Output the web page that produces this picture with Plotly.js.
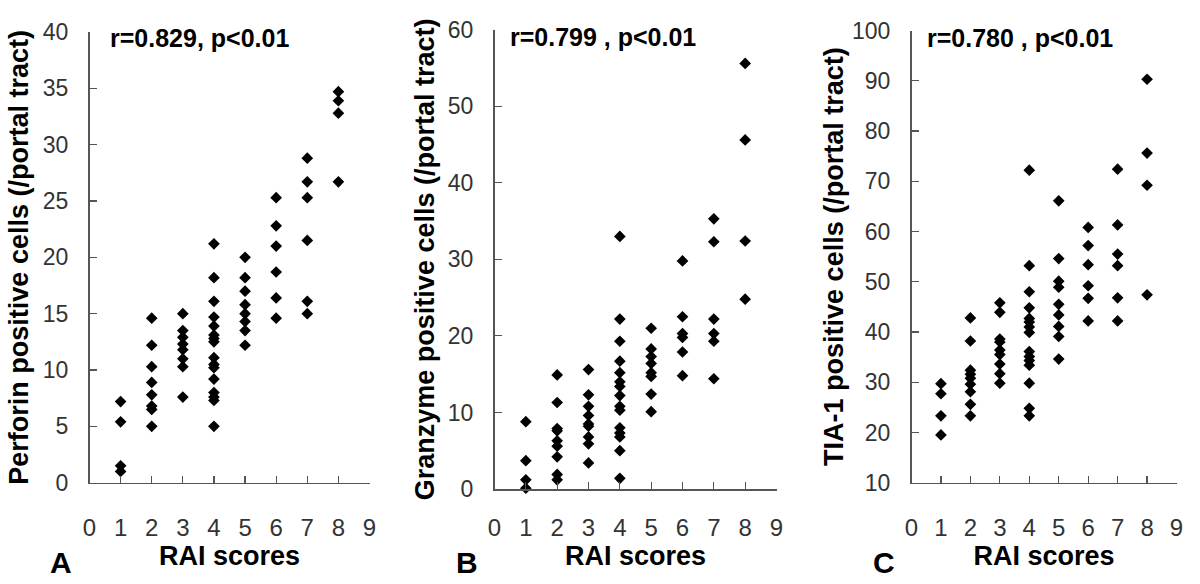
<!DOCTYPE html>
<html>
<head>
<meta charset="utf-8">
<script src="https://cdn.plot.ly/plotly-3.0.1.min.js"></script>
<style>html,body{margin:0;padding:0;background:#fff}#chart{width:1200px;height:584px}</style>
</head>
<body>
<div id="chart"></div>
<script>
// RAI scores (x categories)
const raiScores = [1, 2, 3, 4, 5, 6, 7, 8];
const xTickVals = [0, 1, 2, 3, 4, 5, 6, 7, 8, 9];

// Panel A: Perforin positive cells per RAI score
const perforin = [
  [7.2, 5.4, 1.5, 1.0],
  [14.6, 12.2, 10.3, 8.9, 7.8, 6.8, 6.5, 5.0],
  [15.0, 13.5, 12.9, 12.3, 11.8, 11.0, 10.3, 7.6],
  [21.2, 18.2, 16.1, 14.7, 13.9, 13.1, 12.8, 12.5, 11.1, 10.5, 10.2, 9.2, 8.0, 7.6, 7.3, 5.0],
  [20.0, 18.2, 17.0, 15.8, 15.0, 14.3, 13.5, 12.2],
  [25.3, 22.8, 21.0, 18.7, 16.4, 14.6],
  [28.8, 26.7, 25.3, 21.5, 16.1, 15.0],
  [34.7, 33.9, 32.8, 26.7]
];

// Panel B: Granzyme positive cells per RAI score
const granzyme = [
  [8.8, 3.7, 1.2, 0.1],
  [14.9, 11.3, 7.9, 7.6, 6.3, 5.6, 4.2, 1.9, 1.2],
  [15.6, 12.3, 10.8, 9.6, 8.5, 8.2, 6.8, 5.9, 3.4],
  [33.0, 22.2, 19.3, 16.7, 15.2, 14.0, 13.4, 12.2, 10.8, 10.3, 8.0, 7.3, 6.8, 5.0, 1.4],
  [21.0, 18.3, 17.3, 16.4, 15.2, 14.7, 12.4, 10.1],
  [29.8, 22.5, 20.3, 19.8, 17.9, 14.8],
  [35.3, 32.3, 22.2, 20.3, 19.3, 14.4],
  [55.6, 45.6, 32.4, 24.8]
];

// Panel C: TIA-1 positive cells per RAI score
const tia1 = [
  [29.7, 27.7, 23.3, 19.5],
  [42.8, 38.2, 32.4, 31.6, 30.8, 29.6, 28.1, 25.6, 23.3],
  [45.8, 43.9, 38.6, 38.0, 36.4, 35.5, 33.6, 31.7, 29.8],
  [72.2, 53.2, 48.0, 44.8, 42.7, 42.0, 41.0, 39.9, 36.1, 35.1, 34.3, 33.4, 29.8, 24.8, 23.3],
  [66.1, 54.6, 50.1, 48.9, 45.5, 43.4, 41.1, 39.1, 34.6],
  [60.8, 57.2, 53.4, 49.2, 46.7, 42.2],
  [72.4, 61.3, 55.5, 53.2, 46.8, 42.2],
  [90.3, 75.6, 69.2, 47.4]
];

const yTitles = ['Perforin positive cells (/portal tract)', 'Granzyme positive cells (/portal tract)', 'TIA-1 positive cells (/portal tract)'];
const corrLabels = ['r=0.829, p<0.01', 'r=0.799 , p<0.01', 'r=0.780 , p<0.01'];
const panelLetters = ['A', 'B', 'C'];

function flatten(groups) {
  const xs = [], ys = [];
  groups.forEach((g, i) => g.forEach(v => { xs.push(raiScores[i]); ys.push(v); }));
  return {xs, ys};
}

const FONT = 'Liberation Sans, Arial, Helvetica, sans-serif';
const datasets = [perforin, granzyme, tia1];
const traces = datasets.map((d, i) => {
  const f = flatten(d);
  const n = i === 0 ? '' : (i + 1);
  return {
    type: 'scatter', mode: 'markers', x: f.xs, y: f.ys,
    xaxis: 'x' + n, yaxis: 'y' + n, cliponaxis: false,
    marker: {symbol: 'diamond', size: 9, color: '#000'},
    showlegend: false, hoverinfo: 'x+y'
  };
});

// pixel geometry -> paper fractions
const W = 1200, H = 584;
const panels = [
  {x0: 89.5, x1: 369.5, yb: 482.7, yt: 32.0, yr: [0, 40], dt: 5, xls: 23, xts: 6, yts: 6, rx: 0.066, ry: 0.987},
  {x0: 494.5, x1: 776.5, yb: 489.0, yt: 29.7, yr: [0, 60], dt: 10, xls: 17, xts: 2, yts: 5, rx: 0.048, ry: 0.984},
  {x0: 911.5, x1: 1176.5, yb: 482.7, yt: 30.5, yr: [10, 100], dt: 10, xls: 23, xts: 6, yts: 0, rx: 0.051, ry: 0.983}
];

const layout = {
  width: W, height: H,
  margin: {l: 0, r: 0, t: 0, b: 0},
  paper_bgcolor: '#fff', plot_bgcolor: 'rgba(0,0,0,0)',
  font: {family: FONT, color: '#000'},
  annotations: []
};

panels.forEach((p, i) => {
  const n = i === 0 ? '' : (i + 1);
  const axCommon = {
    showline: true, linecolor: '#555', linewidth: 1.5,
    ticks: 'inside', ticklen: 7, tickwidth: 1.2, tickcolor: '#555',
    showgrid: false, zeroline: false, fixedrange: true,
    tickfont: {family: FONT, size: 24, color: '#333'}
  };
  layout['xaxis' + n] = Object.assign({}, axCommon, {
    domain: [p.x0 / W, p.x1 / W], anchor: 'y' + n,
    range: [0, 9], tickmode: 'array', tickvals: xTickVals,
    ticklabelstandoff: p.xls,
    title: {text: '<b>RAI scores</b>', font: {family: FONT, size: 27, color: '#000'}, standoff: p.xts}
  });
  layout['yaxis' + n] = Object.assign({}, axCommon, {
    domain: [(H - p.yb) / H, (H - p.yt) / H], anchor: 'x' + n,
    range: p.yr, dtick: p.dt, tick0: 0,
    ticklabelstandoff: 15,
    tickfont: {family: FONT, size: 23, color: '#333'},
    title: {text: '<b>' + yTitles[i] + '</b>', font: {family: FONT, size: 27, color: '#000'}, standoff: p.yts}
  });
  layout.annotations.push({
    xref: 'x' + n + ' domain', yref: 'y' + n + ' domain', x: p.rx, y: p.ry,
    xanchor: 'left', yanchor: 'middle', showarrow: false,
    text: '<b>' + corrLabels[i] + '</b>', font: {family: FONT, size: 25, color: '#000'}
  });
  layout.annotations.push({
    xref: 'paper', yref: 'paper', x: (p.x0 - 28) / W, y: (H - 562) / H,
    xanchor: 'center', yanchor: 'middle', showarrow: false,
    text: '<b>' + panelLetters[i] + '</b>', font: {family: FONT, size: 30, color: '#000'}
  });
});

Plotly.newPlot('chart', traces, layout, {staticPlot: true, displayModeBar: false});
</script>
</body>
</html>
